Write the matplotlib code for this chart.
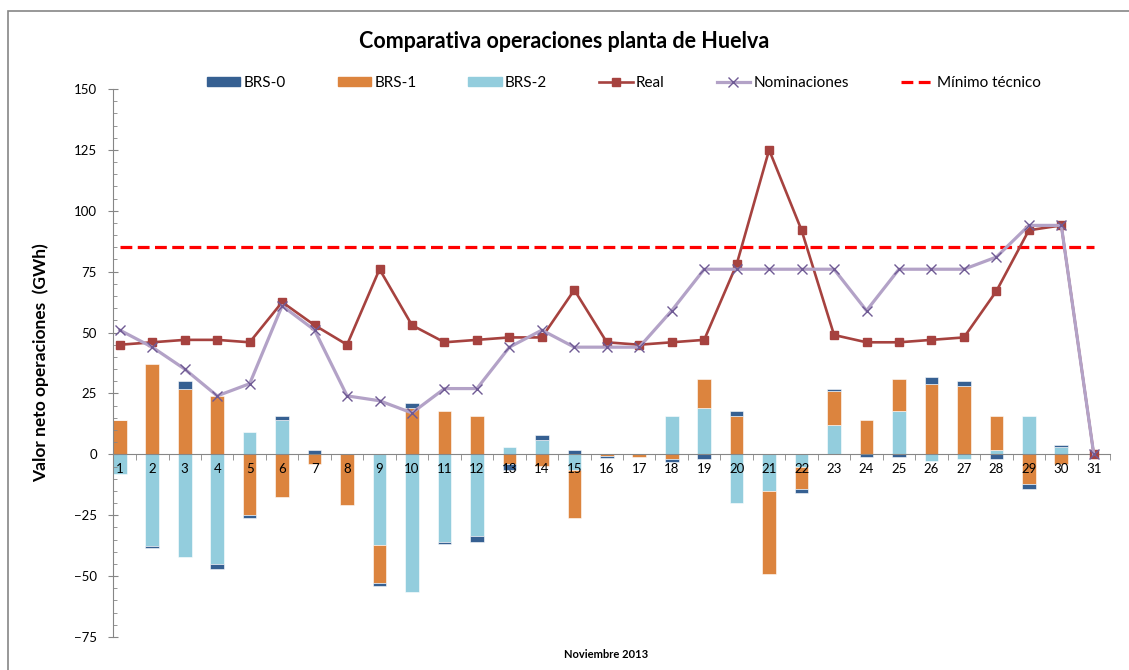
import matplotlib
matplotlib.use('Agg')
import matplotlib.pyplot as plt
import numpy as np
from matplotlib.patches import Rectangle
from matplotlib.lines import Line2D

plt.rcParams['font.family'] = ['Lato', 'DejaVu Sans']

days = list(range(1, 32))

# BRS values (GWh)
brs0 = [0, -0.8, 3, -2, -1.2, 1.7, 1.6, 0, -1.1, 1.9, -1.1, -2.2, -2.6, 2.1, 1.6, -0.9,
        0, -1.1, -1.8, 1.9, 0, -1.6, 0.8, -1.1, -1.1, 2.7, 1.9, -1.9, -2.1, 0.8, 0]
brs1 = [14, 37, 27, 24, -24.8, -17.6, -3.8, -21, -15.6, 19.2, 17.8, 15.7, -4, -4.9, -19.4, -0.8,
        -1, -1.9, 11.7, 15.9, -34.1, -8.9, 13.8, 14.1, 13, 29, 28.2, 13.8, -12, -3.8, 0]
brs2 = [-8, -37.6, -42, -45, 9, 14.2, 0, 0, -37.2, -56.6, -35.8, -33.6, 3, 6, -6.6, 0,
        0, 15.7, 19.2, -19.8, -14.9, -5.2, 12.2, 0, 17.9, -2.9, -1.9, 1.9, 15.7, 3, 0]

real = [45, 46, 47, 47, 46, 62.5, 53, 45, 76, 53, 46, 47, 48, 48, 67.5, 46,
        45, 46, 47, 78, 125, 92, 49, 46, 46, 47, 48, 67, 92, 94, 0]
nominaciones = [51, 44, 35, 24, 29, 61, 51, 24, 22, 17, 27, 27, 44, 51, 44, 44,
                44, 59, 76, 76, 76, 76, 76, 59, 76, 76, 76, 81, 94, 94, 0]
minimo = [85] * 31

c0, c1, c2 = '#366092', '#DC843E', '#93CDDD'

fig = plt.figure(figsize=(11.29, 6.70), dpi=100)
ax = fig.add_axes([113 / 1129, 33 / 670, (1110 - 113) / 1129, (637 - 89) / 670])
ax.set_axisbelow(False)

# outer chart frame
fig.patches.append(Rectangle((8 / 1129, -0.1), 1.2, 1.1 - 11 / 670,
                             transform=fig.transFigure, fill=False, edgecolor='#868686', lw=1.2))

x = np.array(days)
pos_b = np.zeros(31)
neg_b = np.zeros(31)
for vals, col in [(brs2, c2), (brs1, c1), (brs0, c0)]:
    v = np.array(vals, dtype=float)
    bottom = np.where(v >= 0, pos_b, neg_b)
    ax.bar(x, v, bottom=bottom, width=0.42, color=col, edgecolor='#ffffff', linewidth=0.4, zorder=1)
    pos_b += np.where(v > 0, v, 0)
    neg_b += np.where(v < 0, v, 0)

ax.plot(x, real, color='#A6423F', lw=1.9, marker='s', markersize=6, zorder=4)
ax.plot(x, nominaciones, color='#B3A2C7', lw=2.3, marker='x', markersize=7,
        markeredgecolor='#6F5A94', markeredgewidth=1.0, zorder=5)
ax.plot(x, minimo, color='#FF0000', lw=2.3, dashes=(3.7, 1.7), zorder=3)

ax.set_xlim(0.79, 31.46)
ax.set_ylim(-75, 150)
for s in ['top', 'right']:
    ax.spines[s].set_visible(False)
ax.spines['bottom'].set_position(('data', 0))
ax.spines['left'].set_color('#868686')
ax.spines['bottom'].set_color('#868686')

ax.set_xticks(days)
ax.set_xticklabels([str(d) for d in days], fontsize=9.5)
ax.set_xticks(np.arange(1.5, 31.6, 1), minor=True)
ax.tick_params(axis='x', which='major', length=0, pad=6)
ax.tick_params(axis='x', which='minor', length=4, direction='out', color='#868686')

ax.set_yticks(np.arange(-75, 151, 25))
ax.set_yticks(np.arange(-75, 151, 5), minor=True)
ax.tick_params(axis='y', which='major', length=7, direction='inout', color='#868686', labelsize=9.5, pad=8)
ax.tick_params(axis='y', which='minor', length=3, direction='in', color='#868686')
ax.set_ylabel('Valor neto operaciones  (GWh)', fontsize=12.5, fontweight='bold', labelpad=18)

fig.text(0.5, 1 - 42 / 670, 'Comparativa operaciones planta de Huelva', ha='center', va='center',
         fontsize=15.5, fontweight='bold')
fig.text(606 / 1129, 1 - 654 / 670, 'Noviembre 2013', ha='center', va='center',
         fontsize=8, fontweight='bold')

handles = [
    Rectangle((0, 0), 1, 1, color=c0),
    Rectangle((0, 0), 1, 1, color=c1),
    Rectangle((0, 0), 1, 1, color=c2),
    Line2D([], [], color='#A6423F', lw=1.9, marker='s', markersize=6),
    Line2D([], [], color='#B3A2C7', lw=2.3, marker='x', markersize=7, markeredgecolor='#6F5A94'),
    Line2D([], [], color='#FF0000', lw=2.3, dashes=(3.7, 1.7)),
]
labels = ['BRS-0', 'BRS-1', 'BRS-2', 'Real', 'Nominaciones', 'Mínimo técnico']
fig.legend(handles, labels, loc='center', bbox_to_anchor=(624 / 1129, 1 - 83 / 670), ncol=6,
           frameon=False, fontsize=11, handlelength=2.2, handleheight=0.5, handletextpad=0.2,
           columnspacing=3.4)

fig.savefig('out.png', dpi=100)
